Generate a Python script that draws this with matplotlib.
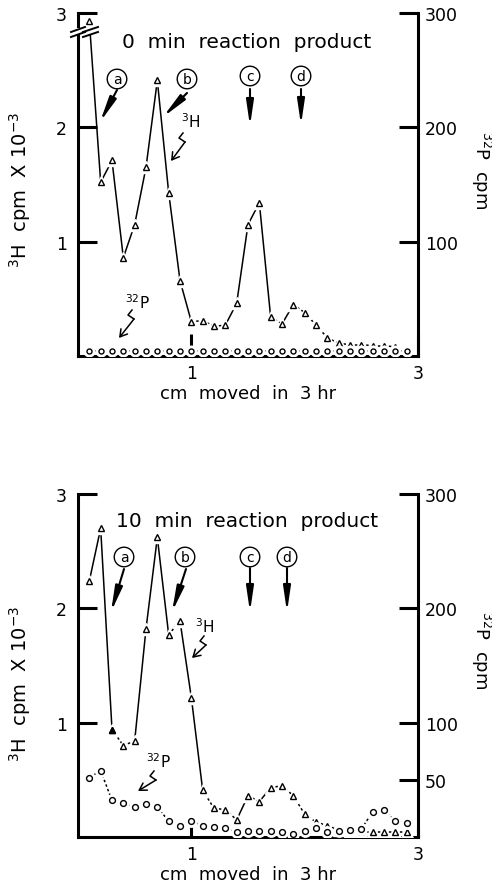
import matplotlib

matplotlib.use("Agg")
import matplotlib.pyplot as plt  # noqa: E402
from matplotlib.patches import Rectangle  # noqa: E402

# fractions, 1 mm apart (cm moved in 3 hr)
x_top_h3 = [0.1, 0.2, 0.3, 0.4, 0.5, 0.6, 0.7, 0.8, 0.9, 1.0, 1.1, 1.2, 1.3, 1.4,
            1.5, 1.6, 1.7, 1.8, 1.9, 2.0, 2.1, 2.2, 2.3, 2.4, 2.5, 2.6, 2.7, 2.8]
h3_top = [2.93, 1.52, 1.71, 0.86, 1.15, 1.65, 2.41, 1.43, 0.66, 0.30, 0.31, 0.26, 0.27, 0.46,
          1.15, 1.34, 0.34, 0.28, 0.45, 0.38, 0.27, 0.16, 0.11, 0.10, 0.10, 0.09, 0.09, 0.08]

x_29 = [0.1, 0.2, 0.3, 0.4, 0.5, 0.6, 0.7, 0.8, 0.9, 1.0, 1.1, 1.2, 1.3, 1.4, 1.5,
        1.6, 1.7, 1.8, 1.9, 2.0, 2.1, 2.2, 2.3, 2.4, 2.5, 2.6, 2.7, 2.8, 2.9]
p32_top = [4, 4, 4, 4, 4, 4, 4, 4, 4, 4, 4, 4, 4, 4, 4,
           4, 4, 4, 4, 4, 4, 4, 4, 4, 4, 4, 4, 4, 4]

h3_bot = [2.24, 2.70, 0.94, 0.80, 0.84, 1.82, 2.62, 1.77, 1.89, 1.22, 0.41, 0.25, 0.24, 0.15,
          0.36, 0.31, 0.43, 0.45, 0.36, 0.20, 0.13, 0.10, 0.06, 0.05, 0.05, 0.04, 0.04, 0.04, 0.04]
p32_bot = [52, 58, 32, 30, 26, 29, 26, 14, 10, 14, 10, 9, 8, 4, 5,
           5, 5, 4, 3, 5, 8, 4, 5, 6, 7, 22, 24, 14, 12]

LW_SPINE = 2.2
DOT = (0, (1.6, 1.6))


def draw_series(ax, x, y, solid, marker, ms, zo=3):
    for i in range(len(x) - 1):
        ls = "-" if i in solid else DOT
        ax.plot(x[i:i + 2], y[i:i + 2], color="k", lw=1.1, ls=ls, zorder=zo,
                solid_capstyle="butt")
    ax.plot(x, y, ls="none", marker=marker, ms=ms + 4, mfc="white", mec="white", zorder=zo + 1)
    ax.plot(x, y, ls="none", marker=marker, ms=ms, mfc="white", mec="k", mew=1.0, zorder=zo + 2)


def style_panel(ax, ax2, right_ticks, xlen):
    ax.set_xlim(0, 3)
    ax.set_ylim(0, 3)
    ax2.set_ylim(0, 300)
    ax.spines["top"].set_visible(False)
    ax2.spines["top"].set_visible(False)
    ax.spines["right"].set_visible(False)
    ax2.spines["left"].set_visible(False)
    ax2.spines["bottom"].set_visible(False)
    for sp in (ax.spines["left"], ax.spines["bottom"], ax2.spines["right"]):
        sp.set_linewidth(LW_SPINE)
    ax.set_yticks([1, 2, 3], ["1", "2", "3"])
    ax.tick_params(axis="y", direction="in", length=14, width=2.2, pad=8, labelsize=12.5)
    ax.set_xticks([1, 3], ["1", "3"])
    ax.set_xticks([2], minor=True)
    ax.tick_params(axis="x", which="major", direction="in", length=xlen, width=2.2,
                   pad=6, labelsize=12.5)
    ax.tick_params(axis="x", which="minor", direction="in", length=6, width=2.2)
    ax2.set_yticks(right_ticks, [str(t) for t in right_ticks])
    ax2.tick_params(axis="y", direction="in", length=14, width=2.2, pad=5, labelsize=12.5)
    ax.set_xlabel("cm  moved  in  3 hr", fontsize=13, labelpad=1.5)
    ax.patch.set_visible(False)


fig = plt.figure(figsize=(4.92, 8.87), dpi=100)
W, H = 492, 887
left, right = 78 / W, 418 / W

ax_top = fig.add_axes([left, 1 - 357 / H, right - left, (357 - 14) / H])
ax_top2 = ax_top.twinx()
ax_bot = fig.add_axes([left, 1 - 838 / H, right - left, (838 - 495) / H])
ax_bot2 = ax_bot.twinx()

draw_series(ax_top, x_top_h3, h3_top, set(range(9)) | {12, 13, 14, 15, 17}, "^", 4.5)
draw_series(ax_top2, x_29, p32_top, set(), "o", 3.6)
draw_series(ax_bot, x_29, h3_bot, {0, 1, 4, 5, 6, 8, 9, 13, 15}, "^", 4.5)
ax_bot.plot(x_29[2], h3_bot[2], ls="none", marker="^", ms=4.5, mfc="k", mec="k", zorder=6)
draw_series(ax_bot2, x_29, p32_bot, set(), "o", 4.2)

style_panel(ax_top, ax_top2, [100, 200, 300], 16)
style_panel(ax_bot, ax_bot2, [50, 100, 200, 300], 8)

# annotation layer in pixel coordinates
an = fig.add_axes([0, 0, 1, 1], zorder=10)
an.set_xlim(0, W)
an.set_ylim(H, 0)
an.axis("off")

# axis break on top panel
an.add_patch(Rectangle((70, 29), 32, 6, fc="white", ec="none"))
for x0, x1 in ((71, 85), (83, 98)):
    for dy in (0, 5):
        an.plot([x0, x1], [33 + dy, 28 + dy], color="k", lw=1.4)

ylab = r"$^{3}$H  cpm  X 10$^{-3}$"
rlab = r"$^{32}$P  cpm"
for yc, yr in ((190, 170), (684, 650)):
    an.text(20, yc, ylab, rotation=90, ha="center", va="center", fontsize=14)
    an.text(481, yr, rlab, rotation=270, ha="center", va="center", fontsize=13)

an.text(122, 42, "0  min  reaction  product", ha="left", va="center", fontsize=14.5)
an.text(116, 522, "10  min  reaction  product", ha="left", va="center", fontsize=14.5)

letters = [("a", 117, 80), ("b", 187, 80), ("c", 250, 77), ("d", 301, 77),
           ("a", 124, 558), ("b", 185, 558), ("c", 250, 558), ("d", 287, 558)]
for t, x, y in letters:
    an.text(x, y, t, ha="center", va="center", fontsize=10,
            bbox=dict(boxstyle="circle,pad=0.2", fc="white", ec="k", lw=1.0))

arrows = [((117, 91), (100, 123)), ((187, 94), (163, 118)),
          ((250, 90), (250, 127)), ((301, 90), (301, 126)),
          ((124, 570), (111, 613)), ((186, 570), (172, 613)),
          ((250, 569), (250, 613)), ((287, 569), (287, 613))]
for tail, head in arrows:
    an.annotate("", xy=head, xytext=tail,
                arrowprops=dict(arrowstyle="-|>,head_length=1.5,head_width=0.22",
                                lw=1.5, color="k", shrinkA=0, shrinkB=0))

isotopes = [(r"$^{3}$H", 191, 122, (183, 134), (171, 162)),
            (r"$^{32}$P", 137, 303, (132, 311), (119, 339)),
            (r"$^{3}$H", 205, 627, (204, 637), (192, 659)),
            (r"$^{32}$P", 158, 762, (154, 772), (138, 792))]
for lab, tx, ty, start, tip in isotopes:
    an.text(tx, ty, lab, ha="center", va="center", fontsize=11)
    sx, sy = start
    mid = (sx + 2, sy + 9)
    an.plot([sx, sx - 4, mid[0]], [sy, sy + 5, mid[1]], color="k", lw=1.1)
    an.annotate("", xy=tip, xytext=mid,
                arrowprops=dict(arrowstyle="->,head_length=0.5,head_width=0.3",
                                lw=1.1, color="k", shrinkA=0, shrinkB=0))

fig.savefig("out.png", dpi=100)
plt.close(fig)
